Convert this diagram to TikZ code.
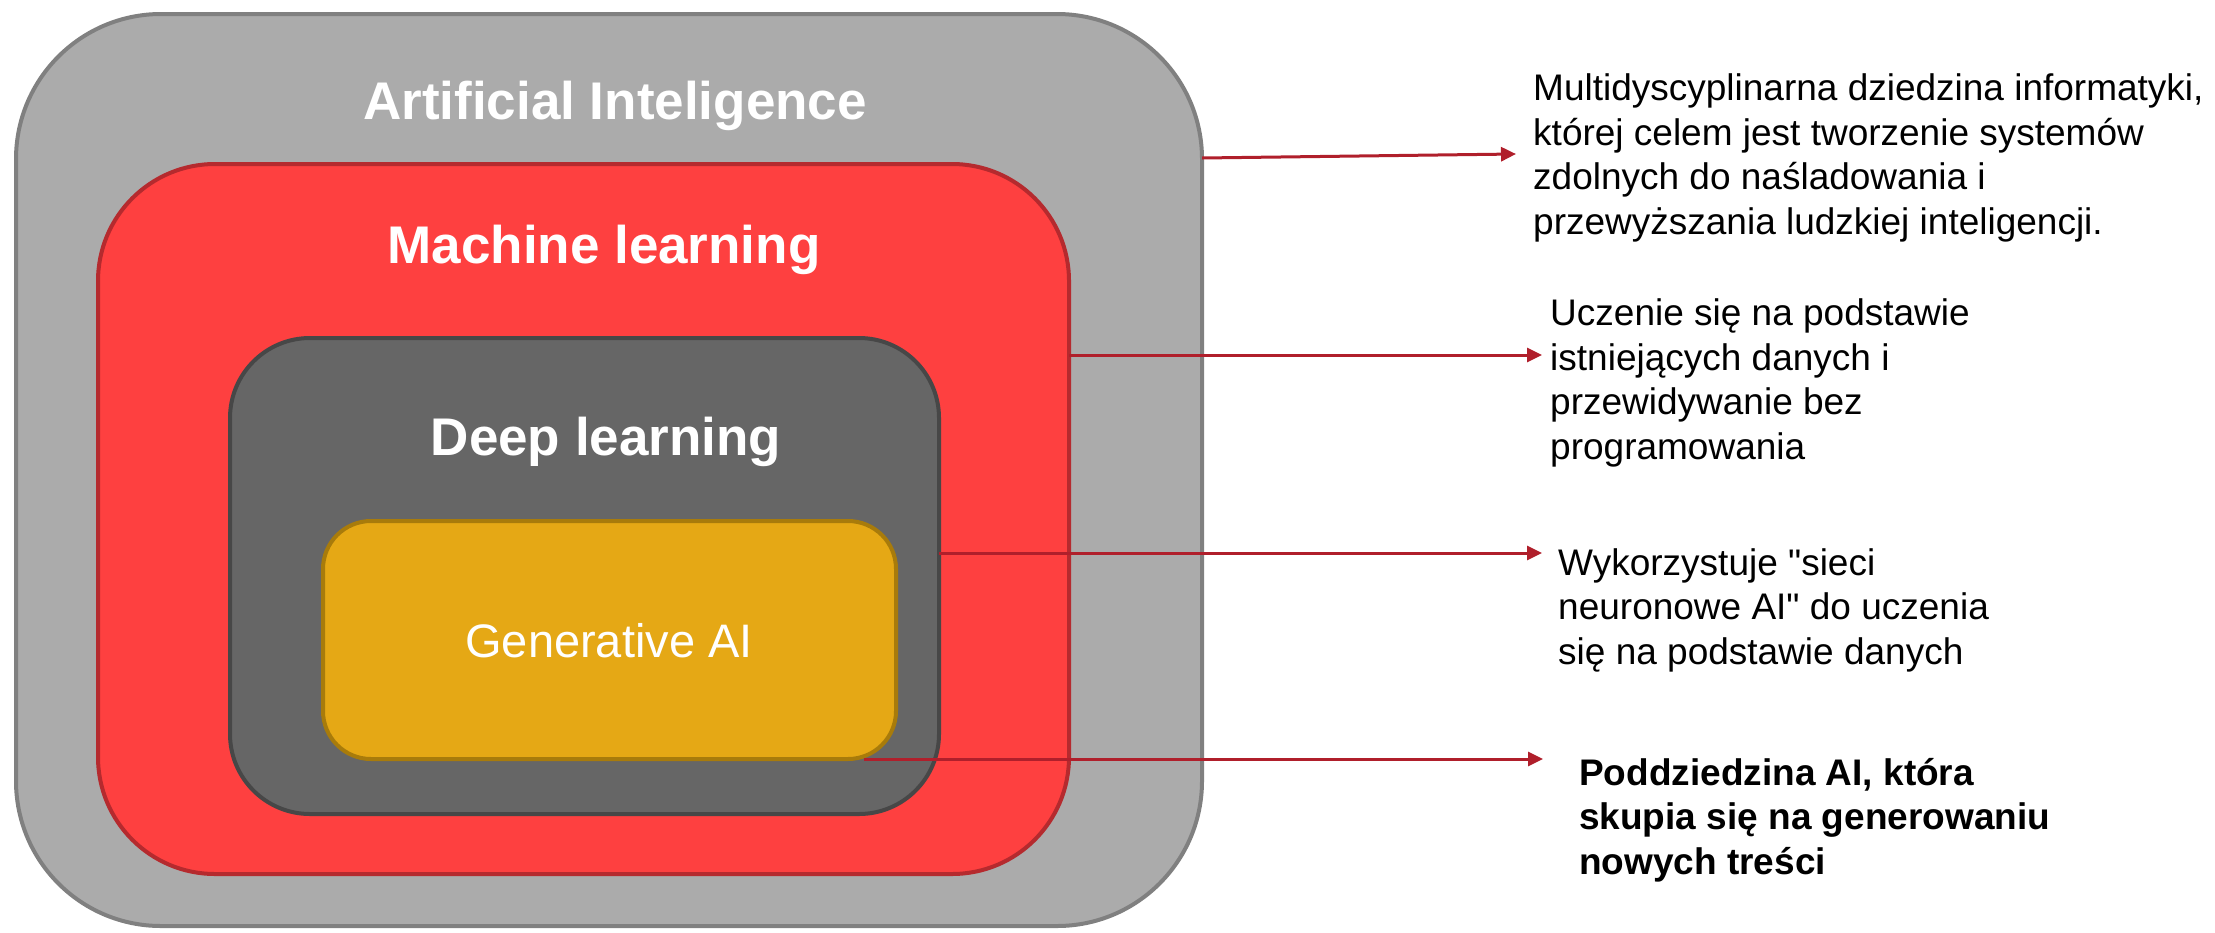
\documentclass[tikz,border=0pt]{standalone}
\usepackage{fontspec}
\setmainfont{Liberation Sans}[Ligatures=TeXOff]
\usetikzlibrary{arrows.meta}
\definecolor{aigray}{HTML}{ABABAB}
\definecolor{aiedge}{HTML}{808080}
\definecolor{mlred}{HTML}{FE4040}
\definecolor{mledge}{HTML}{B52A2E}
\definecolor{dlgray}{HTML}{666666}
\definecolor{dledge}{HTML}{474747}
\definecolor{genfill}{HTML}{E5A815}
\definecolor{genedge}{HTML}{A87B0B}
\definecolor{arrred}{HTML}{B01F2B}
\begin{document}
\begin{tikzpicture}[x=1pt,y=-1pt,
  layer/.style={rectangle,inner sep=0pt,outer sep=0pt,line width=4pt},
  boxtitle/.style={text=white,font=\bfseries\fontsize{53}{60}\selectfont,anchor=base,inner sep=0pt},
  gentitle/.style={text=white,font=\fontsize{47}{54}\selectfont,anchor=base,inner sep=0pt},
  desc/.style={anchor=base west,align=left,inner sep=0pt,font=\fontsize{37}{44.5}\selectfont},
  descbold/.style={desc,font=\bfseries\fontsize{37}{44.5}\selectfont},
  conn/.style={draw=arrred,line width=3pt,-{Triangle[length=15pt,width=14pt]}}]
\useasboundingbox (0,0) rectangle (2215,932);
% nested boxes
\node[layer,draw=aiedge,fill=aigray,minimum width=1186pt,minimum height=912pt,rounded corners=145pt] (ai) at (609,470) {};
\node[layer,draw=mledge,fill=mlred,minimum width=971pt,minimum height=710pt,rounded corners=117pt] (ml) at (583.5,519) {};
\node[layer,draw=dledge,fill=dlgray,minimum width=709pt,minimum height=476pt,rounded corners=80pt] (dl) at (584.5,576) {};
\node[layer,draw=genedge,fill=genfill,minimum width=573pt,minimum height=238pt,rounded corners=48pt] (gen) at (609.5,640) {};
% box titles
\node[boxtitle] (aititle) at (615,119) {Artificial Inteligence};
\node[boxtitle] (mltitle) at (604,263) {Machine learning};
\node[boxtitle] (dltitle) at (606,455) {Deep learning};
\node[gentitle] (gentext) at (609,657) {Generative AI};
% descriptions (anchor = baseline of the last line)
\node[desc] (d1) at (1533,234) {Multidyscyplinarna dziedzina informatyki,\\której celem jest tworzenie systemów\\zdolnych do naśladowania i\\przewyższania ludzkiej inteligencji.};
\node[desc] (d2) at (1550,459) {Uczenie się na podstawie\\istniejących danych i\\przewidywanie bez\\programowania};
\node[desc] (d3) at (1558,664) {Wykorzystuje "sieci\\neuronowe AI" do uczenia\\się na podstawie danych};
\node[descbold] (d4) at (1579,874) {Poddziedzina AI, która\\skupia się na generowaniu\\nowych treści};
% connector end points
\coordinate (s1) at (1203,158);
\coordinate (t1) at (1516,154);
\coordinate (t2) at (1542,355);
\coordinate (t3) at (1542,553);
\coordinate (t4) at (1543,759);
\coordinate (s4) at ([xshift=-32pt]gen.south east);
\draw[conn] (ai.east |- s1) -- (t1);
\draw[conn] (ml.east |- t2) -- (t2);
\draw[conn] (dl.east |- t3) -- (t3);
\draw[conn] (s4) -- (t4);
\end{tikzpicture}
\end{document}
